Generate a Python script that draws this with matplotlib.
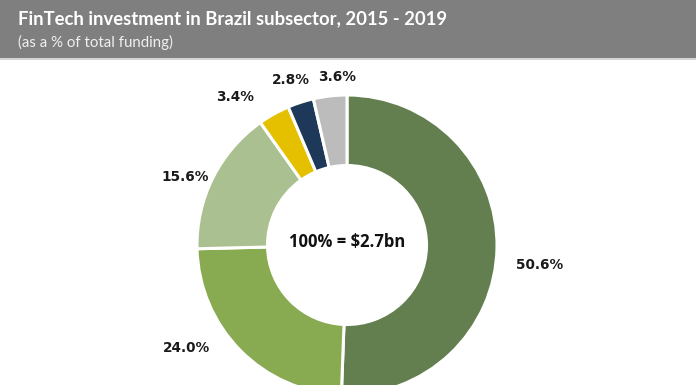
import numpy as np
import matplotlib
matplotlib.use('Agg')
import matplotlib.pyplot as plt
from matplotlib.patches import Rectangle

# subsector shares, clockwise from 12 o'clock
shares = [50.6, 24.0, 15.6, 3.4, 2.8, 3.6]
labels = ['50.6%', '24.0%', '15.6%', '3.4%', '2.8%', '3.6%']
colors = ['#637f4f', '#88aa50', '#abc090', '#e5c000', '#1d3859', '#bcbcbc']
label_dist = [1.29, 1.27, 1.17, 1.24, 1.16, 1.12]
label_shift = [-5, -12, 4, 8, 1, -3]   # degrees, nudge labels off the slice mid-angle

fig = plt.figure(figsize=(6.96, 3.85), dpi=100)
fig.patch.set_facecolor('white')

# grey header band
fig.patches.append(Rectangle((0, 1 - 58 / 385), 1, 58 / 385, transform=fig.transFigure,
                             facecolor='#7f7f7f', edgecolor='none', zorder=0))
fig.patches.append(Rectangle((0, 1 - 60 / 385), 1, 2 / 385, transform=fig.transFigure,
                             facecolor='#d4d4d4', edgecolor='none', zorder=0))
fig.text(18 / 696, 1 - 19 / 385, 'FinTech investment in Brazil subsector, 2015 - 2019',
         color='white', fontsize=13.3, fontweight='bold', family='Lato', va='center')
fig.text(18 / 696, 1 - 42 / 385, '(as a % of total funding)',
         color='#f0f0f0', fontsize=10.8, family='Lato', va='center')

# donut centred at (347, 245) px, outer radius 150 px
cx, cy, r = 347, 385 - 245, 150
ax = fig.add_axes([(cx - r) / 696, (cy - r) / 385, 2 * r / 696, 2 * r / 385])
wedges, _ = ax.pie(shares, colors=colors, startangle=90, counterclock=False,
                   wedgeprops=dict(width=0.47, edgecolor='white', linewidth=2.2))
ax.set_xlim(-1, 1)
ax.set_ylim(-1, 1)
ax.set_aspect('equal')
ax.axis('off')

for w, lab, d, s in zip(wedges, labels, label_dist, label_shift):
    ang = np.deg2rad((w.theta1 + w.theta2) / 2 + s)
    ax.text(d * np.cos(ang), d * np.sin(ang), lab, ha='center', va='center',
            fontsize=9.8, fontweight='bold', color='#1a1a1a', clip_on=False)

ax.text(0, 0.02, '100% = $2.7bn', ha='center', va='center', fontsize=12,
        fontweight='bold', family='Open Sans', color='#111111')

fig.savefig('out.png', dpi=100)
